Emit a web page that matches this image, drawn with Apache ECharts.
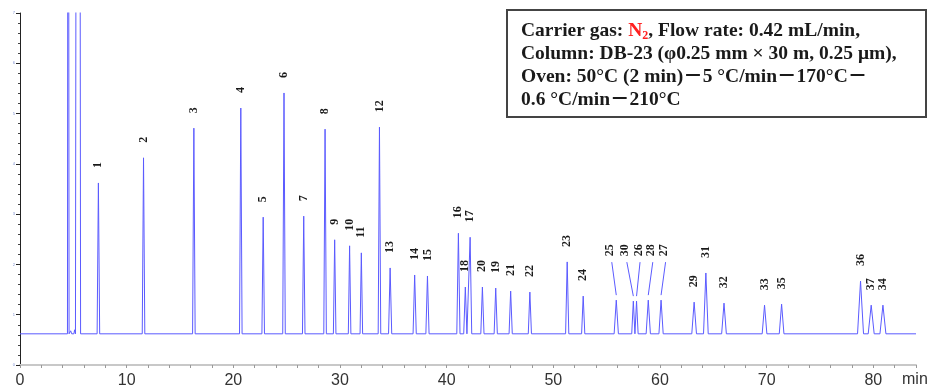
<!DOCTYPE html>
<html><head><meta charset="utf-8">
<script src="https://cdn.jsdelivr.net/npm/echarts@6/dist/echarts.min.js"></script>
<style>html,body{margin:0;padding:0;background:#fff}#c{width:928px;height:392px}</style>
</head><body><div id="c"></div>
<script>
// Peak labels, retention times (min) and heights (signal units), in elution order
const peakNames   = ['1','2','3','4','5','6','7','8','9','10','11','12','13','14','15','16','18','17','20','19','21','22','23','24','25','30','26','28','27','29','31','32','33','35','36','37','34'];
const peakTimes   = [7.35,11.58,16.3,20.7,22.8,24.75,26.6,28.6,29.5,30.9,32.0,33.7,34.7,37.0,38.2,41.1,41.75,42.2,43.35,44.6,46.0,47.8,51.3,52.8,55.9,57.5,57.8,58.9,60.1,63.2,64.3,66.0,69.8,71.4,78.8,79.8,80.9];
const peakHeights = [3.62,4.12,4.71,5.11,2.94,5.41,2.96,4.69,2.49,2.37,2.23,4.73,1.93,1.79,1.77,2.62,1.55,2.54,1.55,1.53,1.47,1.45,2.05,1.37,1.29,1.27,1.27,1.29,1.29,1.25,1.83,1.23,1.19,1.21,1.67,1.19,1.19];
const peakHalfWidths = [0.12,0.12,0.12,0.12,0.12,0.12,0.12,0.12,0.12,0.12,0.12,0.12,0.15,0.15,0.15,0.15,0.15,0.15,0.15,0.15,0.15,0.15,0.15,0.15,0.2,0.15,0.15,0.2,0.2,0.22,0.22,0.22,0.22,0.22,0.28,0.28,0.28];
const baselineLevel = 0.62;
// solvent front region
const solventTimes  = [0, 4.45, 4.52, 4.6, 4.75, 4.85, 5.05, 5.12, 5.2, 5.27, 5.62, 5.68];
const solventValues = [0.62, 0.62, 20, 0.62, 0.68, 0.62, 0.62, 0.7, 0.62, 12, 12, 0.62];
const xTickLabels = ['0','10','20','30','40','50','60','70','80'];
const yTickLabels = ['0','1','2','3','4','5','6','7'];

// label layout (pixel shifts for crowded labels with leader lines)
const labelShift = {'25':[-6,-29],'30':[-8,-30],'26':[2,-30],'28':[3,-29],'27':[3,-29]};
const labelGap = 15;
const traceColor = '#5b5bff';

const trace = [];
for (let i = 0; i < solventTimes.length; i++) trace.push([solventTimes[i], solventValues[i]]);
peakTimes.forEach((t, i) => {
  const w = peakHalfWidths[i];
  trace.push([t - w, baselineLevel], [t, peakHeights[i]], [t + w, baselineLevel]);
});
trace.push([84, baselineLevel]);

const chart = echarts.init(document.getElementById('c'), null, {renderer: 'canvas'});
chart.setOption({
  animation: false,
  backgroundColor: '#fff',
  grid: {left: 20, right: 12, top: 13, bottom: 27, containLabel: false},
  xAxis: {
    type: 'value', min: 0, max: 84, interval: 10,
    axisLine: {show: true, lineStyle: {color: '#c8c8c8', width: 2}},
    axisTick: {show: true, length: 3, lineStyle: {color: '#999'}},
    minorTick: {show: true, splitNumber: 5, length: 3, lineStyle: {color: '#999'}},
    splitLine: {show: false},
    axisLabel: {
      showMaxLabel: false, margin: 8, color: '#333', fontSize: 16, fontFamily: 'Liberation Sans',
      formatter: v => { const i = xTickLabels.indexOf(String(v)); return i >= 0 ? xTickLabels[i] : ''; }
    }
  },
  yAxis: {
    type: 'value', min: 0, max: 7, interval: 1,
    axisLine: {show: true, lineStyle: {color: '#222', width: 1}},
    axisTick: {show: true, length: 4, lineStyle: {color: '#222'}},
    minorTick: {show: true, splitNumber: 5, length: 2, lineStyle: {color: '#444'}},
    splitLine: {show: false},
    axisLabel: {margin: 5, fontSize: 4, color: '#7d8fd0', formatter: v => yTickLabels[v] || ''}
  },
  series: [
    {
      type: 'line', data: trace, showSymbol: false, symbol: 'none', clip: true,
      lineStyle: {color: traceColor, width: 1}, silent: true
    },
    {
      type: 'custom', coordinateSystem: 'cartesian2d',
      data: peakTimes.map((t, i) => [t, peakHeights[i]]),
      encode: {x: 0, y: 1},
      renderItem: (params, api) => {
        const i = params.dataIndex;
        const name = peakNames[i];
        const p = api.coord([api.value(0), api.value(1)]);
        const sh = labelShift[name] || [0, 0];
        const lx = p[0] + sh[0], ly = p[1] - labelGap + sh[1];
        const children = [{
          type: 'text', x: lx, y: ly, rotation: Math.PI / 2,
          style: {text: name, font: 'bold 12px "Liberation Serif"', fill: '#1a1a1a', align: 'left', verticalAlign: 'middle'}
        }];
        if (sh[1] !== 0) {
          children.push({type: 'line', shape: {x1: lx + 1.5, y1: ly + 6, x2: p[0], y2: p[1] - 5},
            style: {stroke: traceColor, lineWidth: 1}});
        }
        return {type: 'group', children};
      }
    }
  ],
  graphic: [
    {type: 'rect', shape: {x: 507, y: 10, width: 419, height: 107}, style: {fill: '#fff', stroke: '#444', lineWidth: 2}, z: 100},
    {type: 'text', x: 521, y: 19, z: 101, style: {
      text: '{b|Carrier gas: }{r|N}{s|2}{b|, Flow rate: 0.42 mL/min,}\n{b|Column: DB-23 (φ0.25 mm × 30 m, 0.25 μm),}\n{b|Oven: 50°C (2 min)－5 °C/min－170°C－}\n{b|0.6 °C/min－210°C}',
      verticalAlign: 'top', align: 'left',
      rich: {
        b: {font: 'bold 19.5px "Liberation Serif", "Noto Sans CJK JP"', fill: '#1a1a1a', lineHeight: 23},
        r: {font: 'bold 19.5px "Liberation Serif"', fill: '#ff2020', lineHeight: 23},
        s: {font: 'bold 12px "Liberation Serif"', fill: '#ff2020', lineHeight: 23, verticalAlign: 'bottom'}
      }
    }},
    {type: 'text', x: 902, y: 372, style: {text: 'min', font: '16px "Liberation Sans"', fill: '#333'}}
  ]
});
</script>
</body></html>
